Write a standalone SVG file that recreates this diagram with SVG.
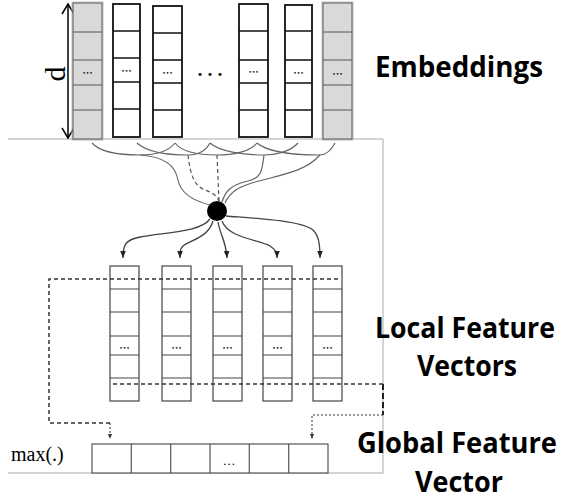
<svg xmlns="http://www.w3.org/2000/svg" width="564" height="501" viewBox="0 0 564 501">
<defs>
<style>
.lbl{font-family:"Open Sans","Noto Sans",sans-serif;font-weight:bold;font-size:28px;fill:#000}
.ser{font-family:"Liberation Serif","DejaVu Serif",serif;fill:#000}
.emb{fill:#fff;stroke:#111;stroke-width:1.8}
.embg{fill:#d9d9d9;stroke:#555;stroke-width:1}
.row{stroke:#111;stroke-width:1.6}
.rowg{stroke:#555;stroke-width:1}
.loc{fill:#fff;stroke:#444;stroke-width:1.2}
.lrow{stroke:#444;stroke-width:1.2}
.arc{fill:none;stroke:#666;stroke-width:1.2}
.dsh{fill:none;stroke:#555;stroke-width:1.2;stroke-dasharray:4,3}
.out{fill:none;stroke:#444;stroke-width:1.3}
.gd{fill:none;stroke:#333;stroke-width:1.5;stroke-dasharray:4,3}
.gdot{fill:none;stroke:#333;stroke-width:1;stroke-dasharray:2,2}
.dots{font-family:"DejaVu Sans",sans-serif;font-size:6px;fill:#111}
</style>
<marker id="ah" viewBox="0 0 10 10" refX="10" refY="5" markerWidth="7" markerHeight="7" markerUnits="userSpaceOnUse" orient="auto"><path d="M0,1 L10,5 L0,9 z" fill="#222"/></marker>
<marker id="ahs" viewBox="0 0 10 10" refX="10" refY="5" markerWidth="5" markerHeight="5" markerUnits="userSpaceOnUse" orient="auto"><path d="M0,1 L10,5 L0,9 z" fill="#333"/></marker>
</defs>
<rect width="564" height="501" fill="#fff"/>

<!-- frame -->
<path d="M8,139 H383 V473 H8" fill="none" stroke="#aaa" stroke-width="1"/>

<!-- dimension d -->
<g id="dim-d">
<line x1="68" y1="4" x2="68" y2="138" stroke="#000" stroke-width="1.5"/>
<path d="M62,14 L68,4 L74,14 M62,128 L68,138 L74,128" fill="none" stroke="#000" stroke-width="1.5"/>
<text class="ser" font-size="30" text-anchor="middle" transform="translate(65,74) rotate(-90)">d</text>
</g>

<!-- embeddings -->
<g id="emb1">
<rect x="72" y="2" width="31" height="138" fill="none" stroke="#bbb" stroke-width="1"/>
<rect class="embg" x="73" y="3" width="29" height="136"/>
<path class="rowg" d="M73,32 H102 M73,60 H102 M73,85 H102 M73,110 H102"/>
<text class="dots" x="87.5" y="75" text-anchor="middle">•••</text>
</g>
<g id="emb2">
<rect class="emb" x="113" y="4" width="27" height="133"/>
<path class="row" d="M113,31 H140 M113,58 H140 M113,82 H140 M113,109 H140"/>
<text class="dots" x="126.5" y="73" text-anchor="middle" font-size="7">•••</text>
</g>
<g id="emb3">
<rect class="emb" x="153" y="6" width="29" height="131"/>
<path class="row" d="M153,33 H182 M153,60 H182 M153,83 H182 M153,110 H182"/>
<text class="dots" x="167.5" y="75" text-anchor="middle" font-size="7">•••</text>
</g>
<g id="emb-gap">
<text x="210" y="78" text-anchor="middle" font-family="DejaVu Sans,sans-serif" font-size="11" fill="#111">• • •</text>
</g>
<g id="emb4">
<rect class="emb" x="239" y="4" width="29" height="133"/>
<path class="row" d="M239,31 H268 M239,60 H268 M239,83 H268 M239,110 H268"/>
<text class="dots" x="253.5" y="74" text-anchor="middle" font-size="7">•••</text>
</g>
<g id="emb5">
<rect class="emb" x="285" y="5" width="27" height="132"/>
<path class="row" d="M285,31 H312 M285,60 H312 M285,83 H312 M285,110 H312"/>
<text class="dots" x="298.5" y="75" text-anchor="middle" font-size="7">•••</text>
</g>
<g id="emb6">
<rect x="322" y="2" width="31" height="138" fill="none" stroke="#bbb" stroke-width="1"/>
<rect class="embg" x="323" y="3" width="29" height="136"/>
<path class="rowg" d="M323,32 H352 M323,60 H352 M323,85 H352 M323,110 H352"/>
<text class="dots" x="337.5" y="76" text-anchor="middle">•••</text>
</g>

<!-- hub -->
<g id="hub"><circle cx="217" cy="211" r="10" fill="#000"/></g>

<!-- local feature vectors -->
<g id="loc1"><rect class="loc" x="110" y="266" width="29" height="135"/><path class="lrow" d="M110,289 H139 M110,312 H139 M110,336 H139 M110,355 H139 M110,378 H139"/><text class="dots" x="124.5" y="350" text-anchor="middle">•••</text></g>
<g id="loc2"><rect class="loc" x="162" y="266" width="29" height="135"/><path class="lrow" d="M162,289 H191 M162,312 H191 M162,336 H191 M162,355 H191 M162,378 H191"/><text class="dots" x="176.5" y="350" text-anchor="middle">•••</text></g>
<g id="loc3"><rect class="loc" x="213" y="266" width="29" height="135"/><path class="lrow" d="M213,289 H242 M213,312 H242 M213,336 H242 M213,355 H242 M213,378 H242"/><text class="dots" x="227.5" y="350" text-anchor="middle">•••</text></g>
<g id="loc4"><rect class="loc" x="263" y="266" width="29" height="135"/><path class="lrow" d="M263,289 H292 M263,312 H292 M263,336 H292 M263,355 H292 M263,378 H292"/><text class="dots" x="277.5" y="350" text-anchor="middle">•••</text></g>
<g id="loc5"><rect class="loc" x="313" y="266" width="29" height="135"/><path class="lrow" d="M313,289 H342 M313,312 H342 M313,336 H342 M313,355 H342 M313,378 H342"/><text class="dots" x="327.5" y="350" text-anchor="middle">•••</text></g>

<!-- global feature vector -->
<g id="global">
<rect x="92" y="444" width="236" height="29" fill="#fff" stroke="#555" stroke-width="1.2"/>
<path d="M131.3,444 V473 M170.7,444 V473 M210,444 V473 M249.3,444 V473 M288.7,444 V473" stroke="#555" stroke-width="1.2"/>
<text class="ser" x="229.7" y="465" font-size="13" text-anchor="middle" letter-spacing="1">...</text>
</g>
<g id="max-label"><text class="ser" x="11" y="461" font-size="20">max(.)</text></g>

<!-- connectors -->
<g id="connectors">
<path class="arc" d="M92,143 C100,152 120,155 140,155"/>
<path class="arc" d="M137,143 C147,152 168,155 188,155"/>
<path class="arc" d="M175,143 C168,152 155,155 140,155"/>
<path class="arc" d="M175,143 C182,152 200,155 217,155"/>
<path class="arc" d="M210,143 C205,152 197,155 188,155"/>
<path class="arc" d="M210,143 C220,152 245,155 264,155"/>
<path class="arc" d="M257,143 C250,152 232,155 217,155"/>
<path class="arc" d="M257,143 C267,152 295,155 320,155"/>
<path class="arc" d="M298,143 C290,152 275,155 264,155"/>
<path class="arc" d="M335,143 C330,152 325,155 320,155"/>
<path class="arc" d="M140,155 C165,157 175,165 178,180 C181,195 198,202 210,205"/>
<path class="dsh" d="M188,155 C190,170 192,185 205,190 C213,193 218,196 219,202"/>
<path class="dsh" d="M217,155 L219,201"/>
<path class="arc" d="M264,155 C262,170 262,178 248,181 C230,185 225,192 222,202"/>
<path class="arc" d="M320,155 C305,172 280,175 255,182 C238,187 230,192 225,203"/>

<path class="out" stroke-width="1.6" stroke="#222" d="M210,219 C200,232 170,232 140,237 C125,240 123,245 123,258" marker-end="url(#ah)"/>
<path class="out" d="M213,221 C208,238 190,240 183,246 C180,249 180,252 180,258" marker-end="url(#ah)"/>
<path class="out" d="M218,222 C220,235 226,240 227,258" marker-end="url(#ah)"/>
<path class="out" d="M222,221 C228,238 260,240 270,246 C276,250 277,252 277,258" marker-end="url(#ah)"/>
<path class="out" stroke-width="1.6" stroke="#222" d="M226,216 C250,218 300,220 313,230 C319,236 320,245 320,258" marker-end="url(#ah)"/>

<path class="gd" d="M338,279 H49 V423 H110"/>
<path class="gdot" d="M110,423 V439" marker-end="url(#ahs)"/>
<path class="gd" d="M113,384 H383"/>
<path d="M383,384 V415" fill="none" stroke="#222" stroke-width="2" stroke-dasharray="6,3"/>
<path class="gdot" d="M383,415 H312 V439" marker-end="url(#ahs)"/>
</g>

<!-- labels -->
<g id="labels">
<text class="lbl" x="459" y="77" text-anchor="middle" textLength="168" lengthAdjust="spacingAndGlyphs">Embeddings</text>
<text class="lbl" x="465" y="338" text-anchor="middle" textLength="180" lengthAdjust="spacingAndGlyphs">Local Feature</text>
<text class="lbl" x="467" y="376" text-anchor="middle" textLength="100" lengthAdjust="spacingAndGlyphs">Vectors</text>
<text class="lbl" x="457" y="453" text-anchor="middle" textLength="200" lengthAdjust="spacingAndGlyphs">Global Feature</text>
<text class="lbl" x="459" y="492" text-anchor="middle" textLength="88" lengthAdjust="spacingAndGlyphs">Vector</text>
</g>
</svg>
